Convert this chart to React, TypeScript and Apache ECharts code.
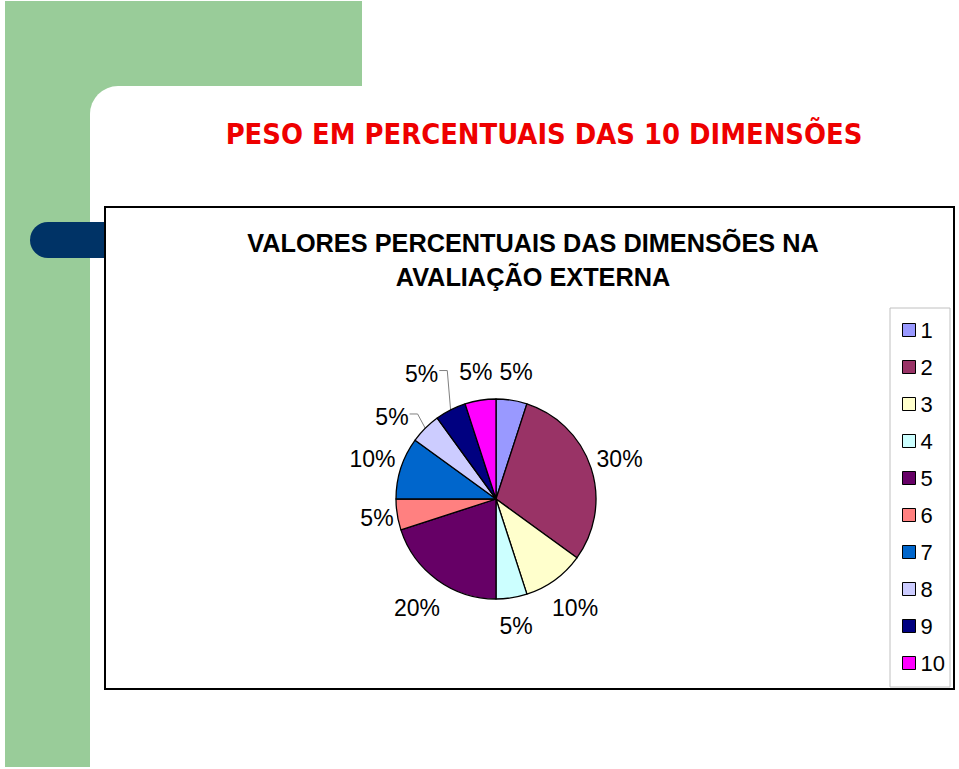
import React, { useEffect, useRef } from "react";
import * as echarts from "echarts";

const categories = ["1", "2", "3", "4", "5", "6", "7", "8", "9", "10"];
const values = [5, 30, 10, 5, 20, 5, 10, 5, 5, 5];
const sliceColors = ["#9999ff", "#993366", "#ffffcc", "#ccffff", "#660066", "#ff8080", "#0066cc", "#ccccff", "#000080", "#ff00ff"];
const mainTitle = "PESO EM PERCENTUAIS DAS 10 DIMENSÕES";
const chartTitleLines = ["VALORES PERCENTUAIS DAS DIMENSÕES NA", "AVALIAÇÃO EXTERNA"];

// layout (not data)
const PIE_CX = 496;
const PIE_CY = 499;
const PIE_R = 100;
const LABEL_HALF_H = 26;
const labelNudge: Array<[number, number]> = [[0, 0], [0, 0], [0, 0], [0, 0], [0, 0], [0, 0], [0, 0], [-12, 10], [-15, -9], [0, 0]];
const leaderLine = [false, false, false, false, false, false, false, true, true, false];

export default function App() {
  const ref = useRef<HTMLDivElement>(null);
  useEffect(() => {
    document.body.style.margin = "0";
    const chart = echarts.init(ref.current!, null, { renderer: "svg" });
    const total = values.reduce((a, b) => a + b, 0);
    const cum: number[] = [];
    values.reduce((acc, v, i) => { cum[i] = acc; return acc + v; }, 0);

    const green = "#99cc99";
    const option: any = {
      animation: false,
      backgroundColor: "#ffffff",
      graphic: [
        { type: "rect", z: 0, shape: { x: 5, y: 1, width: 357, height: 120 }, style: { fill: green } },
        { type: "rect", z: 0, shape: { x: 5, y: 1, width: 85, height: 766 }, style: { fill: green } },
        { type: "rect", z: 0, shape: { x: 90, y: 86, width: 869, height: 683, r: [28, 0, 0, 0] }, style: { fill: "#ffffff" } },
        { type: "rect", z: 0, shape: { x: 30, y: 222, width: 100, height: 36, r: 18 }, style: { fill: "#003366" } },
        { type: "rect", z: 0, shape: { x: 105, y: 207, width: 849, height: 482 }, style: { fill: "#ffffff", stroke: "#000000", lineWidth: 2 } },
        { type: "rect", z: 0, shape: { x: 890, y: 308, width: 60, height: 379 }, style: { fill: "#ffffff", stroke: "#c0c0c0", lineWidth: 1 } },
        {
          type: "text", z: 0, x: 544, y: 133.5,
          style: {
            text: mainTitle, fill: "#ee0000", fontSize: 28.8, fontWeight: "bold",
            fontFamily: '"DejaVu Sans Condensed", "DejaVu Sans", sans-serif',
            textAlign: "center", textVerticalAlign: "middle",
          },
        },
        ...chartTitleLines.map((t, i) => ({
          type: "text", z: 0, x: 533, y: 242.5 + i * 34.5,
          style: {
            text: t, fill: "#000000", fontSize: 25.3, fontWeight: "bold",
            fontFamily: '"Liberation Sans", Arial, sans-serif',
            textAlign: "center", textVerticalAlign: "middle",
          },
        })),
      ],
      legend: {
        orient: "vertical",
        left: 897,
        top: 314,
        itemWidth: 13,
        itemHeight: 13,
        itemGap: 15,
        icon: "rect",
        selectedMode: false,
        itemStyle: { borderColor: "#000000", borderWidth: 1 },
        textStyle: {
          fontFamily: '"Liberation Sans", Arial, sans-serif',
          fontSize: 22,
          lineHeight: 22,
          color: "#000000",
        },
        data: categories,
      },
      series: [
        {
          type: "pie",
          center: [PIE_CX, PIE_CY],
          radius: PIE_R,
          startAngle: 90,
          clockwise: true,
          avoidLabelOverlap: false,
          silent: true,
          itemStyle: { borderColor: "#000000", borderWidth: 1.3 },
          label: {
            show: true,
            position: "outside",
            formatter: (p: any) => `${p.value}%`,
            fontFamily: '"Liberation Sans", Arial, sans-serif',
            fontSize: 23,
            color: "#000000",
          },
          labelLine: { show: false, length: 8, length2: 0, lineStyle: { color: "#808080", width: 1 } },
          labelLayout: (params: any) => {
            const i = params.dataIndex;
            const mid = ((cum[i] + values[i] / 2) / total) * Math.PI * 2;
            const sx = Math.sin(mid);
            const sy = -Math.cos(mid);
            const w = params.labelRect.width;
            const ex = PIE_CX + PIE_R * sx;
            const ey = PIE_CY + PIE_R * sy;
            const dist = (w / 2) * Math.abs(sx) + LABEL_HALF_H * Math.abs(sy);
            const lx = ex + sx * dist + labelNudge[i][0];
            const ly = ey + sy * dist + labelNudge[i][1];
            const out: any = { x: lx, y: ly, align: "center", verticalAlign: "middle" };
            if (leaderLine[i]) {
              out.labelLinePoints = [[ex, ey], [lx + w / 2 + 9, ly - 3], [lx + w / 2 + 1, ly - 3]];
            }
            return out;
          },
          data: categories.map((c, i) => ({
            name: c,
            value: values[i],
            itemStyle: { color: sliceColors[i] },
            labelLine: leaderLine[i] ? { show: true } : undefined,
          })),
        },
      ],
    };
    chart.setOption(option);
    return () => chart.dispose();
  }, []);
  return <div ref={ref} style={{ width: 959, height: 769 }} />;
}
